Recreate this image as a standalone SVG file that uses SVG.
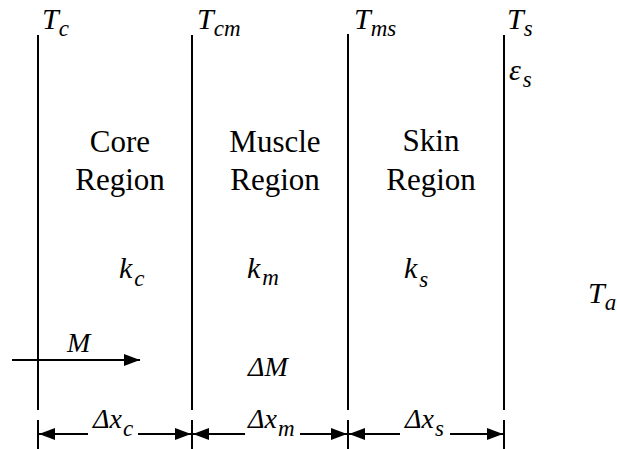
<svg xmlns="http://www.w3.org/2000/svg" width="617" height="449" viewBox="0 0 617 449" font-family="Liberation Serif, serif">
<defs>
<marker id="ah" viewBox="0 0 16 12" refX="16" refY="6" markerWidth="16" markerHeight="12" markerUnits="userSpaceOnUse" orient="auto">
<path d="M0,0 L16,6 L0,12 Z" fill="#000"/>
</marker>
</defs>
<rect width="617" height="449" fill="#fff"/>
<g id="boundaries" stroke="#000" stroke-width="2" fill="none">
<line x1="38" y1="35" x2="38" y2="410"/>
<line x1="192" y1="35" x2="192" y2="410"/>
<line x1="348" y1="34" x2="348" y2="410"/>
<line x1="504" y1="35" x2="504" y2="410"/>
</g>
<g id="labels-top" font-style="italic" font-size="30">
<text font-family="Liberation Serif" x="42" y="29">T<tspan font-size="23" dy="7">c</tspan></text>
<text font-family="Liberation Serif" x="197" y="29">T<tspan font-size="23" dy="7">cm</tspan></text>
<text font-family="Liberation Serif" x="354" y="29">T<tspan font-size="23" dy="7">ms</tspan></text>
<text font-family="Liberation Serif" x="507" y="29">T<tspan font-size="23" dy="7">s</tspan></text>
<text font-family="Liberation Serif" x="509" y="80">&#949;<tspan font-size="23" dx="2" dy="7">s</tspan></text>
</g>
<g id="core">
<text font-family="Liberation Serif" font-size="31" text-anchor="middle" x="120" y="152">Core</text>
<text font-family="Liberation Serif" font-size="31" text-anchor="middle" x="120" y="190">Region</text>
<text font-family="Liberation Serif" font-style="italic" font-size="30" x="119" y="278">k<tspan font-size="23" dx="2" dy="8">c</tspan></text>
</g>
<g id="muscle">
<text font-family="Liberation Serif" font-size="31" text-anchor="middle" x="275" y="152">Muscle</text>
<text font-family="Liberation Serif" font-size="31" text-anchor="middle" x="275" y="190">Region</text>
<text font-family="Liberation Serif" font-style="italic" font-size="30" x="247" y="278">k<tspan font-size="23" dx="2" dy="7">m</tspan></text>
<text font-family="Liberation Serif" font-style="italic" font-size="28" x="248" y="376">&#916;M</text>
</g>
<g id="skin">
<text font-family="Liberation Serif" font-size="31" text-anchor="middle" x="431" y="151">Skin</text>
<text font-family="Liberation Serif" font-size="31" text-anchor="middle" x="431" y="190">Region</text>
<text font-family="Liberation Serif" font-style="italic" font-size="30" x="404" y="278">k<tspan font-size="23" dx="2" dy="9">s</tspan></text>
</g>
<g id="ambient">
<text font-family="Liberation Serif" font-style="italic" font-size="30" x="588" y="303">T<tspan font-size="23" dy="7">a</tspan></text>
</g>
<g id="connectors" stroke="#000" stroke-width="2" fill="none">
<line x1="12" y1="360" x2="140" y2="360" marker-end="url(#ah)"/>
<line x1="38" y1="420" x2="38" y2="449"/>
<line x1="192" y1="420" x2="192" y2="449"/>
<line x1="348" y1="420" x2="348" y2="449"/>
<line x1="504" y1="420" x2="504" y2="449"/>
<line x1="88" y1="434" x2="39" y2="434" marker-end="url(#ah)"/>
<line x1="138" y1="434" x2="191" y2="434" marker-end="url(#ah)"/>
<line x1="245" y1="434" x2="193" y2="434" marker-end="url(#ah)"/>
<line x1="300" y1="434" x2="347" y2="434" marker-end="url(#ah)"/>
<line x1="400" y1="434" x2="349" y2="434" marker-end="url(#ah)"/>
<line x1="450" y1="434" x2="503" y2="434" marker-end="url(#ah)"/>
</g>
<g id="connector-labels" font-style="italic" font-size="28">
<text font-family="Liberation Serif" x="67" y="352">M</text>
<text font-family="Liberation Serif" x="93" y="428">&#916;x<tspan font-size="23" dx="1" dy="8">c</tspan></text>
<text font-family="Liberation Serif" x="248" y="428">&#916;x<tspan font-size="23" dx="1" dy="8">m</tspan></text>
<text font-family="Liberation Serif" x="405" y="428">&#916;x<tspan font-size="23" dx="1" dy="8">s</tspan></text>
</g>
</svg>
